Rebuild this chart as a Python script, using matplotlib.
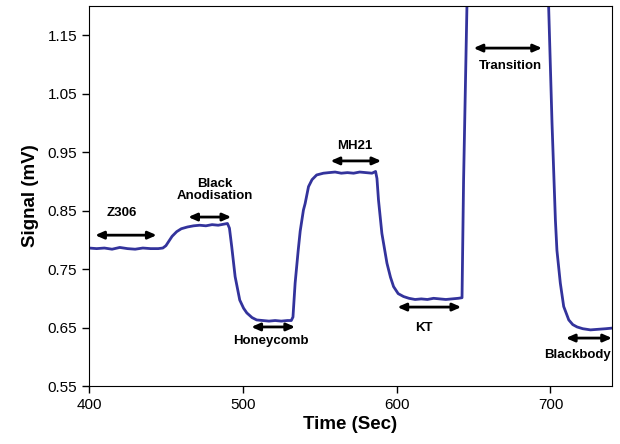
import matplotlib.pyplot as plt

plt.rcParams['font.family'] = ['Liberation Sans', 'DejaVu Sans']

# signal trace (time in s, signal in mV)
time = [400, 405, 410, 415, 420, 425, 430, 435, 440, 445, 448,
        450, 452, 454, 457, 460, 464, 468, 472, 476, 480, 484, 488, 490, 491.3,
        492.8, 495, 498, 500.5, 502.6, 506, 509, 513, 517, 521, 525, 529, 531.5, 532.6,
        534, 536, 537.3, 539.4, 540.5, 542.7, 545, 548, 552.4, 556, 560, 564, 568, 572, 576, 580, 584, 586.3, 587.2,
        588.2, 590.4, 593.7, 596, 598, 601, 604.5, 608, 612, 616, 620, 624, 628, 632, 636, 640, 642.5,
        643.5, 645.7, 648, 660, 680, 697, 698.8, 701, 703.2, 704.2, 706.4, 708.6, 711.9, 714.5, 717.3, 721, 726, 731, 736, 740]
signal = [0.786, 0.785, 0.786, 0.784, 0.787, 0.785, 0.784, 0.786, 0.785, 0.785, 0.786,
          0.790, 0.798, 0.806, 0.814, 0.819, 0.822, 0.824, 0.825, 0.824, 0.826, 0.825, 0.827, 0.828, 0.820,
          0.788, 0.737, 0.697, 0.683, 0.675, 0.667, 0.663, 0.662, 0.661, 0.662, 0.661, 0.662, 0.662, 0.668,
          0.726, 0.782, 0.815, 0.851, 0.862, 0.891, 0.903, 0.911, 0.914, 0.915, 0.916, 0.914, 0.915, 0.914, 0.916, 0.915, 0.914, 0.917, 0.905,
          0.868, 0.811, 0.760, 0.736, 0.720, 0.708, 0.703, 0.700, 0.698, 0.699, 0.698, 0.700, 0.699, 0.698, 0.699, 0.700, 0.701,
          0.900, 1.200, 1.500, 1.600, 1.600, 1.500, 1.200, 1.000, 0.834, 0.782, 0.726, 0.686, 0.663, 0.655, 0.651, 0.648, 0.646, 0.647, 0.648, 0.649]

# labelled intervals: arrow extent, arrow height and label position
labels = ['Z306', 'Black\nAnodisation', 'Honeycomb', 'MH21', 'KT', 'Transition', 'Blackbody']
arrow_start = [404, 464.5, 505.5, 557, 600.5, 650, 710]
arrow_end = [444, 492.5, 534, 590, 642, 694.5, 740]
arrow_y = [0.808, 0.839, 0.651, 0.935, 0.685, 1.128, 0.632]
text_x = [421.5, 482, 518, 572.5, 618, 674, 717.5]
text_y = [0.846, 0.885, 0.627, 0.960, 0.649, 1.097, 0.603]

fig = plt.figure(figsize=(6.2, 4.44), dpi=100)
ax = fig.add_axes([89 / 620, 1 - 386 / 444, (612 - 89) / 620, (386 - 6) / 444])
ax.plot(time, signal, color='#33339c', lw=2)

for lab, x0, x1, ya, tx, ty in zip(labels, arrow_start, arrow_end, arrow_y, text_x, text_y):
    ax.annotate('', xy=(x1, ya), xytext=(x0, ya),
                arrowprops=dict(arrowstyle='<|-|>,head_length=0.5,head_width=0.22',
                                color='black', lw=2, shrinkA=0, shrinkB=0),
                annotation_clip=False)
    ax.text(tx, ty, lab, ha='center', va='center', fontsize=9.5, fontweight='bold',
            linespacing=1.0)

ax.set_xlim(400, 740)
ax.set_ylim(0.55, 1.2)
ax.set_xticks([400, 500, 600, 700])
ax.set_yticks([0.55, 0.65, 0.75, 0.85, 0.95, 1.05, 1.15])
ax.set_yticklabels(['0.55', '0.65', '0.75', '0.85', '0.95', '1.05', '1.15'])
ax.tick_params(direction='out', length=5, labelsize=11, width=1)
ax.set_xlabel('Time (Sec)', fontsize=13.5, fontweight='bold', labelpad=3)
ax.set_ylabel('Signal (mV)', fontsize=13.5, fontweight='bold', labelpad=6)

fig.savefig('out.png', dpi=100)
